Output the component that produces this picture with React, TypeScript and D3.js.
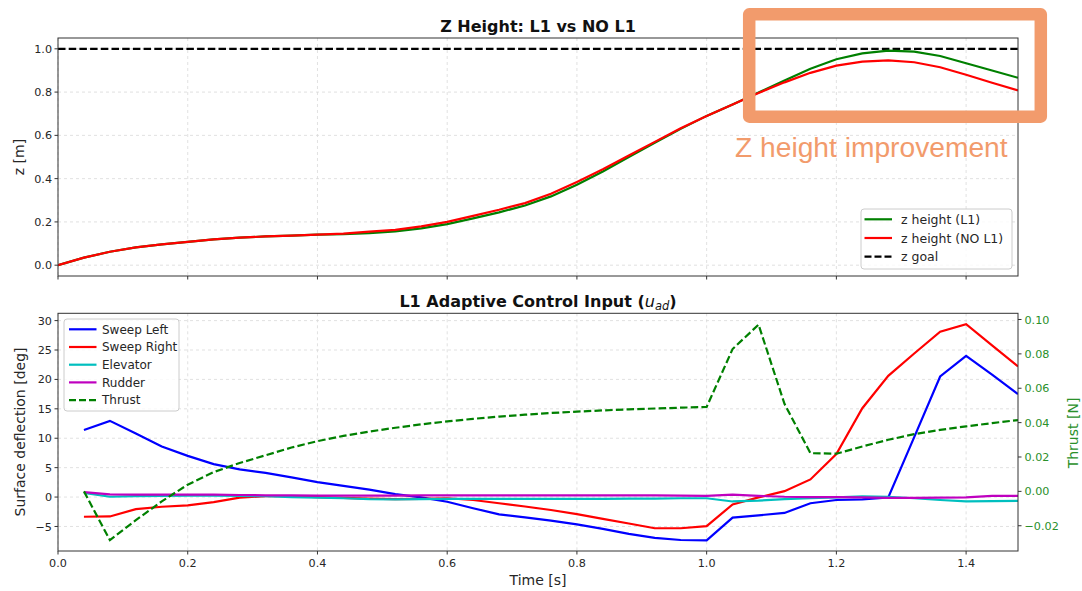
import React from "react";
import * as d3 from "d3";

// ---------- data ----------
const timeZ = [0, 0.04, 0.08, 0.12, 0.16, 0.2, 0.24, 0.28, 0.32, 0.36, 0.4, 0.44, 0.48, 0.52, 0.56, 0.6, 0.64, 0.68, 0.72, 0.76, 0.8, 0.84, 0.88, 0.92, 0.96, 1.0, 1.04, 1.08, 1.12, 1.16, 1.2, 1.24, 1.28, 1.32, 1.36, 1.4, 1.44, 1.48];
const zL1 = [0.0, 0.035, 0.062, 0.082, 0.096, 0.108, 0.119, 0.127, 0.133, 0.137, 0.141, 0.143, 0.148, 0.156, 0.17, 0.19, 0.216, 0.244, 0.276, 0.318, 0.372, 0.433, 0.5, 0.566, 0.63, 0.69, 0.743, 0.798, 0.853, 0.908, 0.952, 0.979, 0.992, 0.987, 0.967, 0.933, 0.9, 0.866];
const zNoL1 = [0.0, 0.035, 0.062, 0.082, 0.096, 0.108, 0.119, 0.127, 0.133, 0.137, 0.141, 0.146, 0.155, 0.163, 0.179, 0.2, 0.228, 0.256, 0.287, 0.33, 0.385, 0.443, 0.507, 0.57, 0.633, 0.69, 0.743, 0.796, 0.845, 0.889, 0.922, 0.941, 0.947, 0.938, 0.915, 0.88, 0.843, 0.808];
const zGoal = 1.0;

const timeU = [0.04, 0.08, 0.12, 0.16, 0.2, 0.24, 0.28, 0.32, 0.36, 0.4, 0.44, 0.48, 0.52, 0.56, 0.6, 0.64, 0.68, 0.72, 0.76, 0.8, 0.84, 0.88, 0.92, 0.96, 1.0, 1.04, 1.08, 1.12, 1.16, 1.2, 1.24, 1.28, 1.32, 1.36, 1.4, 1.44, 1.48];
const sweepLeft = [11.4, 12.95, 10.8, 8.6, 7.0, 5.6, 4.7, 4.1, 3.35, 2.55, 1.9, 1.25, 0.5, -0.05, -0.8, -1.9, -2.95, -3.45, -4.0, -4.65, -5.4, -6.25, -6.95, -7.3, -7.35, -3.5, -3.1, -2.7, -1.05, -0.5, -0.4, -0.05, 10.2, 20.5, 24.0, 20.8, 17.5];
const sweepRight = [-3.35, -3.3, -2.05, -1.65, -1.4, -0.85, -0.1, 0.15, 0.15, 0.0, -0.15, -0.25, -0.35, -0.3, -0.2, -0.5, -1.05, -1.6, -2.2, -2.9, -3.7, -4.5, -5.3, -5.3, -4.95, -1.25, -0.05, 1.0, 3.0, 7.3, 15.1, 20.6, 24.4, 28.1, 29.4, 25.8, 22.2];
const elevator = [0.7, 0.05, 0.15, 0.2, 0.25, 0.25, 0.2, 0.15, 0.0, -0.1, -0.2, -0.35, -0.4, -0.35, -0.3, -0.3, -0.3, -0.3, -0.3, -0.3, -0.3, -0.25, -0.25, -0.2, -0.2, -0.75, -0.6, -0.35, -0.2, -0.05, 0.1, 0.05, -0.2, -0.5, -0.75, -0.7, -0.65];
const rudder = [0.85, 0.45, 0.4, 0.4, 0.4, 0.4, 0.35, 0.3, 0.3, 0.25, 0.25, 0.25, 0.25, 0.3, 0.3, 0.3, 0.3, 0.3, 0.3, 0.3, 0.3, 0.3, 0.3, 0.25, 0.2, 0.4, 0.2, 0.05, 0.0, 0.0, -0.05, -0.15, -0.15, -0.1, -0.05, 0.2, 0.2];
const thrust = [0.0, -0.0284, -0.0168, -0.0058, 0.0039, 0.0112, 0.0165, 0.021, 0.0255, 0.0292, 0.0323, 0.0348, 0.037, 0.039, 0.0407, 0.0422, 0.0435, 0.0446, 0.0456, 0.0464, 0.0471, 0.0477, 0.0482, 0.0487, 0.0491, 0.0828, 0.097, 0.0509, 0.0222, 0.0219, 0.0261, 0.03, 0.0333, 0.0358, 0.0378, 0.0397, 0.0415];

const xTicks = [0, 0.2, 0.4, 0.6, 0.8, 1.0, 1.2, 1.4];
const zTicks = [0, 0.2, 0.4, 0.6, 0.8, 1.0];
const defTicks = [-5, 0, 5, 10, 15, 20, 25, 30];
const thrTicks = [-0.02, 0, 0.02, 0.04, 0.06, 0.08, 0.1];

const topLegend = [
  { label: "z height (L1)", color: "#008000", dash: "" },
  { label: "z height (NO L1)", color: "#ff0000", dash: "" },
  { label: "z goal", color: "#000000", dash: "7,3" },
];
const botLegend = [
  { label: "Sweep Left", color: "#0000ff", dash: "" },
  { label: "Sweep Right", color: "#ff0000", dash: "" },
  { label: "Elevator", color: "#00bfbf", dash: "" },
  { label: "Rudder", color: "#bf00bf", dash: "" },
  { label: "Thrust", color: "#008000", dash: "7,3" },
];

const FONT = "'DejaVu Sans', sans-serif";
const TICK = "#262626";
const GREEN = "#008000";
const ORANGE = "#F29B6C";
const LW = 2.2;

export default function App() {
  const W = 1082, H = 591;
  const L = 58, R = 1018;
  const T1 = 38, B1 = 276;
  const T2 = 313.3, B2 = 551;

  const x = d3.scaleLinear().domain([0, 1.48]).range([L, R]);
  const yZ = d3.scaleLinear().domain([-0.05, 1.05]).range([B1, T1]);
  const yDef = d3.scaleLinear().domain([-9.17, 31.24]).range([B2, T2]);
  const yThr = d3.scaleLinear().domain([-0.0347, 0.1036]).range([B2, T2]);

  const fmtX = d3.format(".1f");
  const fmtZ = d3.format(".1f");
  const fmtDef = d3.format("d");
  const fmtThr = d3.format(".2f");

  const lineOf = (xs: number[], ys: number[], yS: d3.ScaleLinear<number, number>) =>
    d3.line<number>().x((_, i) => x(xs[i])).y((d) => yS(d))(ys) || "";

  const gridStyle = { stroke: "#d9d9d9", strokeWidth: 0.8, strokeDasharray: "3,3" };

  return (
    <svg width={W} height={H} style={{ position: "absolute", left: 0, top: 0, background: "#fff" }} fontFamily={FONT}>
      <defs>
        <clipPath id="c1"><rect x={L} y={T1} width={R - L} height={B1 - T1} /></clipPath>
        <clipPath id="c2"><rect x={L} y={T2} width={R - L} height={B2 - T2} /></clipPath>
      </defs>

      {/* ---------- TOP PLOT ---------- */}
      <g>
        {xTicks.map((t) => (
          <line key={"gx1" + t} x1={x(t)} x2={x(t)} y1={T1} y2={B1} {...gridStyle} />
        ))}
        {zTicks.map((t) => (
          <line key={"gy1" + t} x1={L} x2={R} y1={yZ(t)} y2={yZ(t)} {...gridStyle} />
        ))}
        <g clipPath="url(#c1)">
          <line x1={L} x2={R} y1={yZ(zGoal)} y2={yZ(zGoal)} stroke="#000" strokeWidth={LW} strokeDasharray="7.5,3.2" />
          <path d={lineOf(timeZ, zL1, yZ)} fill="none" stroke={GREEN} strokeWidth={LW} />
          <path d={lineOf(timeZ, zNoL1, yZ)} fill="none" stroke="#ff0000" strokeWidth={LW} />
        </g>
        <rect x={L} y={T1} width={R - L} height={B1 - T1} fill="none" stroke="#333" strokeWidth={1} />
        {xTicks.map((t) => (
          <line key={"tx1" + t} x1={x(t)} x2={x(t)} y1={B1} y2={B1 + 3.5} stroke="#333" strokeWidth={1} />
        ))}
        {zTicks.map((t) => (
          <g key={"ty1" + t}>
            <line x1={L - 3.5} x2={L} y1={yZ(t)} y2={yZ(t)} stroke="#333" strokeWidth={1} />
            <text x={L - 6} y={yZ(t)} dy="0.36em" textAnchor="end" fontSize={11.2} fill={TICK}>{fmtZ(t)}</text>
          </g>
        ))}
        <text x={538} y={31.5} textAnchor="middle" fontSize={16} fontWeight="bold" fill="#111">Z Height: L1 vs NO L1</text>
        <text transform={`translate(19,${(T1 + B1) / 2}) rotate(-90)`} textAnchor="middle" dy="0.36em" fontSize={14} fill={TICK}>z [m]</text>

        {/* legend */}
        <rect x={861} y={209} width={151} height={60} rx={3} fill="#fff" fillOpacity={0.8} stroke="#cccccc" strokeWidth={1} />
        {topLegend.map((e, i) => {
          const yy = 219.3 + i * 18.7;
          return (
            <g key={"tl" + i}>
              <line x1={864.5} x2={892} y1={yy} y2={yy} stroke={e.color} strokeWidth={LW} strokeDasharray={e.dash || undefined} />
              <text x={901} y={yy} dy="0.36em" fontSize={12.5} fill={TICK}>{e.label}</text>
            </g>
          );
        })}
      </g>

      {/* ---------- BOTTOM PLOT ---------- */}
      <g>
        {xTicks.map((t) => (
          <line key={"gx2" + t} x1={x(t)} x2={x(t)} y1={T2} y2={B2} {...gridStyle} />
        ))}
        {defTicks.map((t) => (
          <line key={"gy2" + t} x1={L} x2={R} y1={yDef(t)} y2={yDef(t)} {...gridStyle} />
        ))}
        <g clipPath="url(#c2)">
          <path d={lineOf(timeU, sweepLeft, yDef)} fill="none" stroke="#0000ff" strokeWidth={LW} />
          <path d={lineOf(timeU, sweepRight, yDef)} fill="none" stroke="#ff0000" strokeWidth={LW} />
          <path d={lineOf(timeU, elevator, yDef)} fill="none" stroke="#00bfbf" strokeWidth={LW} />
          <path d={lineOf(timeU, rudder, yDef)} fill="none" stroke="#bf00bf" strokeWidth={LW} />
          <path d={lineOf(timeU, thrust, yThr)} fill="none" stroke={GREEN} strokeWidth={LW} strokeDasharray="7.5,3.2" />
        </g>
        <rect x={L} y={T2} width={R - L} height={B2 - T2} fill="none" stroke="#333" strokeWidth={1} />
        {xTicks.map((t) => (
          <g key={"tx2" + t}>
            <line x1={x(t)} x2={x(t)} y1={B2} y2={B2 + 3.5} stroke="#333" strokeWidth={1} />
            <text x={x(t)} y={B2 + 16} textAnchor="middle" fontSize={11.2} fill={TICK}>{fmtX(t)}</text>
          </g>
        ))}
        {defTicks.map((t) => (
          <g key={"ty2" + t}>
            <line x1={L - 3.5} x2={L} y1={yDef(t)} y2={yDef(t)} stroke="#333" strokeWidth={1} />
            <text x={L - 6} y={yDef(t)} dy="0.36em" textAnchor="end" fontSize={11.2} fill={TICK}>{fmtDef(t)}</text>
          </g>
        ))}
        {thrTicks.map((t) => (
          <g key={"tr2" + t}>
            <line x1={R} x2={R + 3.5} y1={yThr(t)} y2={yThr(t)} stroke="#333" strokeWidth={1} />
            <text x={R + 6.5} y={yThr(t)} dy="0.36em" textAnchor="start" fontSize={11.2} fill="#2a902a">{fmtThr(t)}</text>
          </g>
        ))}
        <text x={538} y={306.5} textAnchor="middle" fontSize={16} fill="#111">
          <tspan fontWeight="bold">L1 Adaptive Control Input (</tspan>
          <tspan fontStyle="italic">u</tspan>
          <tspan fontStyle="italic" fontSize={11.5} dy={3}>ad</tspan>
          <tspan fontWeight="bold" dy={-3}>)</tspan>
        </text>
        <text x={538} y={585} textAnchor="middle" fontSize={14} fill={TICK}>Time [s]</text>
        <text transform={`translate(20,432) rotate(-90)`} textAnchor="middle" dy="0.36em" fontSize={14} fill={TICK}>Surface deflection [deg]</text>
        <text transform={`translate(1073,433) rotate(-90)`} textAnchor="middle" dy="0.36em" fontSize={14} fill="#2a902a">Thrust [N]</text>

        {/* legend */}
        <rect x={64} y={319} width={115} height={92} rx={3} fill="#fff" fillOpacity={0.8} stroke="#cccccc" strokeWidth={1} />
        {botLegend.map((e, i) => {
          const yy = 329.3 + i * 17.7;
          return (
            <g key={"bl" + i}>
              <line x1={69} x2={96.5} y1={yy} y2={yy} stroke={e.color} strokeWidth={LW} strokeDasharray={e.dash || undefined} />
              <text x={102} y={yy} dy="0.36em" fontSize={12} fill={TICK}>{e.label}</text>
            </g>
          );
        })}
      </g>

      {/* ---------- annotation ---------- */}
      <rect x={749.2} y={14.3} width={291.6} height={102.4} fill="none" stroke={ORANGE} strokeWidth={12.5} strokeLinejoin="round" />
      <text x={735} y={156.5} fontSize={28.2} fontFamily="'Liberation Sans', Arial, sans-serif" fill={ORANGE}>Z height improvement</text>
    </svg>
  );
}
